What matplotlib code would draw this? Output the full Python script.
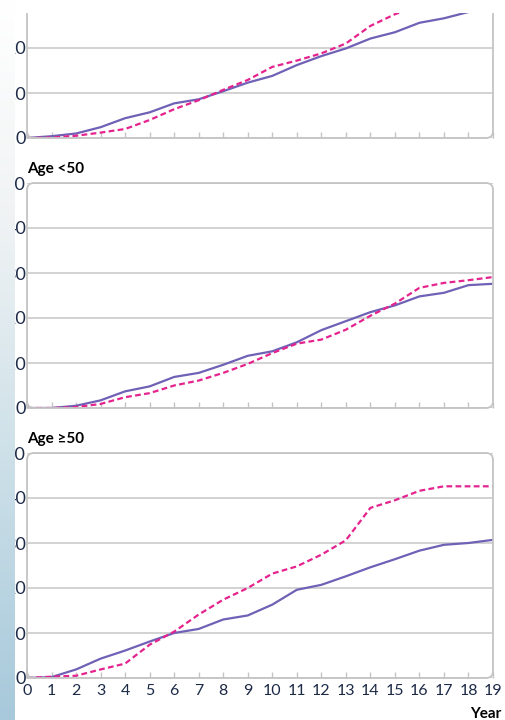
import numpy as np
import matplotlib.pyplot as plt
from matplotlib.patches import FancyBboxPatch, Rectangle
from matplotlib.lines import Line2D
from matplotlib.colors import LinearSegmentedColormap

plt.rcParams['font.family'] = ['Lato', 'DejaVu Sans']

years = np.arange(20)
year_labels = [str(y) for y in years]

# all ages (upper panel)
all_solid = [0, 0.4, 1.0, 2.4, 4.4, 5.7, 7.7, 8.6, 10.4, 12.3,
             13.8, 16.2, 18.2, 19.9, 22.1, 23.5, 25.6, 26.6, 28.0, 29.0]
all_dashed = [0, 0.1, 0.5, 1.2, 2.0, 4.0, 6.4, 8.4, 10.7, 12.9,
              15.8, 17.2, 18.8, 21.0, 24.9, 27.5, 29.5, 31.0, 32.0, 32.5]

# age < 50
young_solid = [0, 0, 0.5, 1.7, 3.7, 4.8, 6.9, 7.8, 9.6, 11.6,
               12.6, 14.6, 17.3, 19.3, 21.3, 22.8, 24.8, 25.6, 27.3, 27.6]
young_dashed = [0, 0, 0.2, 0.9, 2.4, 3.3, 5.0, 6.1, 7.8, 9.8,
                12.2, 14.3, 15.2, 17.4, 20.5, 23.2, 26.7, 27.8, 28.4, 29.1]

# age >= 50
old_solid = [0, 0.2, 1.9, 4.3, 6.1, 8.1, 10.0, 10.9, 13.0, 13.9,
             16.3, 19.6, 20.7, 22.6, 24.6, 26.4, 28.3, 29.6, 30.0, 30.7]
old_dashed = [0, 0.3, 0.5, 1.9, 3.2, 7.4, 10.3, 14.1, 17.4, 20.0,
              23.2, 24.8, 27.4, 30.6, 37.8, 39.5, 41.6, 42.6, 42.6, 42.6]

y_ticks = [0, 10, 20, 30, 40, 50]
y_tick_labels = ['0', '10', '20', '30', '40', '50']

W, H = 506, 720
PURPLE = '#7061b6'
PINK = '#e5238e'
GRID = '#cbcbcb'
FRAME = '#c4c4c4'
TEXT = '#1c2a48'

fig = plt.figure(figsize=(W / 100, H / 100), dpi=100)
fig.patch.set_facecolor('white')

LEFT, RIGHT = 27, 493


def add_panel(top_px, bot_px, ymax):
    ax = fig.add_axes([LEFT / W, 1 - bot_px / H,
                       (RIGHT - LEFT) / W, (bot_px - top_px) / H])
    for s in ax.spines.values():
        s.set_visible(False)
    ticks = [t for t in y_ticks if t <= ymax + 0.01]
    ax.set_xticks(years)
    ax.set_yticks(ticks)
    ax.set_yticklabels(y_tick_labels[:len(ticks)])
    ax.set_xlim(0, 19)
    ax.set_ylim(0, ymax)
    ax.grid(axis='y', color=GRID, lw=1.2)
    ax.set_axisbelow(True)
    ax.tick_params(axis='x', direction='in', length=4, width=1, color=FRAME,
                   labelbottom=False)
    ax.tick_params(axis='y', length=0, pad=0.5, labelsize=13,
                   labelcolor=TEXT)
    return ax


def add_frame(top_px, bot_px):
    x0, x1 = LEFT / W, RIGHT / W
    y0, y1 = 1 - bot_px / H, 1 - top_px / H
    r = 7 / W
    box = FancyBboxPatch((x0, y0), x1 - x0, y1 - y0,
                         boxstyle=f"round,pad=0,rounding_size={r}",
                         mutation_aspect=W / H, transform=fig.transFigure,
                         fill=False, ec=FRAME, lw=1.3, zorder=3)
    fig.add_artist(box)
    # square lower-left corner
    fig.add_artist(Line2D([x0, x0, x0 + r], [y0 + 7 / H, y0, y0],
                          transform=fig.transFigure, color=FRAME, lw=1.3,
                          zorder=3))


def draw_lines(ax, solid, dashed):
    ax.plot(years, solid, color=PURPLE, lw=1.6, solid_joinstyle='round')
    ax.plot(years, dashed, color=PINK, lw=1.6, dashes=(2.6, 1.5))


ax1 = add_panel(13, 138, 125 / 4.5)
draw_lines(ax1, all_solid, all_dashed)
add_frame(-30, 138)

ax2 = add_panel(183, 408, 50)
draw_lines(ax2, young_solid, young_dashed)
add_frame(183, 408)

ax3 = add_panel(453, 678, 50)
draw_lines(ax3, old_solid, old_dashed)
add_frame(453, 678)
ax3.set_xticklabels(year_labels)
ax3.tick_params(axis='x', labelbottom=True, labelsize=11.5, pad=4,
                labelcolor=TEXT)

# white band over the clipped top of the upper panel
fig.add_artist(Rectangle((0, 1 - 13 / H), 1, 13 / H, transform=fig.transFigure,
                         facecolor='white', edgecolor='none', zorder=4))

fig.text(LEFT / W, 1 - 169 / H, 'Age <50', fontsize=11, fontweight='bold',
         color='black', ha='left', va='center')
fig.text(LEFT / W, 1 - 439 / H, 'Age \u226550', fontsize=11, fontweight='bold',
         color='black', ha='left', va='center')
fig.text(501 / W, 1 - 714 / H, 'Year', fontsize=11, fontweight='bold',
         color='black', ha='right', va='center')

# shaded strip down the left edge
strip = fig.add_axes([0, 0, 15 / W, 1], zorder=5)
cmap = LinearSegmentedColormap.from_list(
    'strip', [(0, '#a7c9db'), (0.38, '#cfe1e9'), (0.7, '#f0f3f4'), (1, '#ffffff')])
strip.imshow(np.linspace(0, 1, 256).reshape(-1, 1), aspect='auto', cmap=cmap,
             origin='lower', extent=[0, 1, 0, 1])
strip.set_axis_off()

fig.savefig('out.png', dpi=100)
